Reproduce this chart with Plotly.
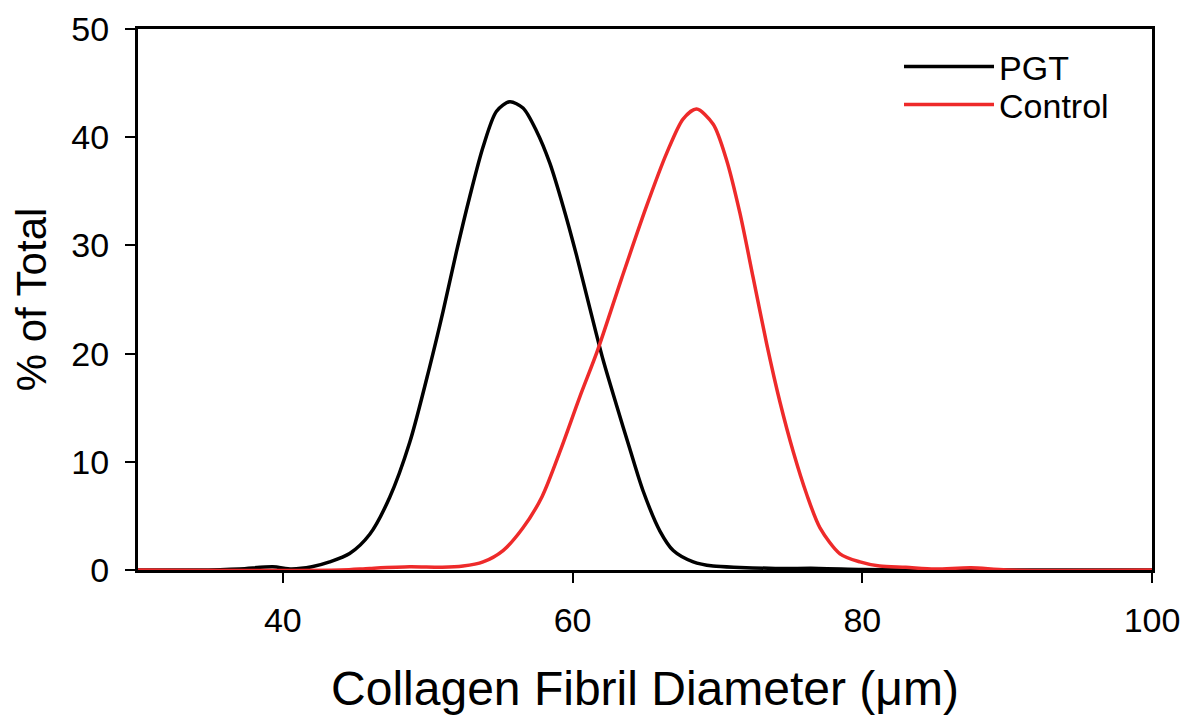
import plotly.graph_objects as go

# Collagen fibril diameter distribution data
pgt_x = [30, 34, 37, 39.3, 40.6, 42.0, 43.23, 44.61, 46.0, 47.37, 48.76, 50.14, 51.06, 51.98, 52.9,
         53.82, 54.75, 55.66, 56.58, 57.5, 58.43, 59.35, 60.27, 61.19, 62.11, 63.04, 63.95, 64.87,
         66.03, 66.95, 68.33, 69.7, 71.55, 74, 77, 80, 85, 100]
pgt_y = [0, 0, 0.1, 0.3, 0.1, 0.3, 0.75, 1.52, 3.3, 6.7, 11.8, 18.8, 23.9, 29.4, 34.5,
         39.1, 42.4, 43.27, 42.7, 40.6, 37.6, 33.6, 29.1, 24.2, 19.4, 15.2, 11.2, 7.3,
         3.6, 1.8, 0.75, 0.36, 0.24, 0.15, 0.15, 0.05, 0, 0]

ctrl_x = [30, 44, 46, 48.76, 51, 52.44, 53.82, 55.2, 56.58, 57.9, 59.2, 60.5, 61.7, 63.4, 65.1,
          66.49, 67.64, 68.56, 69.71, 70.63, 71.55, 72.47, 73.4, 74.32, 75.24, 76.16, 77.08,
          78.46, 79.84, 81.2, 83, 85, 87.5, 90, 100]
ctrl_y = [0, 0, 0.15, 0.3, 0.25, 0.36, 0.75, 1.8, 3.9, 6.8, 11.2, 16.0, 20.2, 27.0, 33.6,
          38.5, 41.7, 42.6, 41.2, 37.9, 33.0, 27.0, 20.9, 15.5, 10.9, 7.0, 3.9,
          1.5, 0.75, 0.36, 0.25, 0.1, 0.2, 0, 0]

x_ticks = [40, 60, 80, 100]
y_ticks = [0, 10, 20, 30, 40, 50]

FONT = "Liberation Sans, Arial, sans-serif"

fig = go.Figure()
fig.add_trace(go.Scatter(x=pgt_x, y=pgt_y, mode="lines", name="PGT", legend="legend",
                         line=dict(color="black", width=3.5, shape="spline", smoothing=0.8)))
fig.add_trace(go.Scatter(x=ctrl_x, y=ctrl_y, mode="lines", name="Control", legend="legend2",
                         line=dict(color="#ee2a2a", width=3.5, shape="spline", smoothing=0.8)))

leg_common = dict(x=0.7505, xanchor="left", yanchor="middle",
                  font=dict(size=34, family=FONT, color="black"), itemwidth=90,
                  bgcolor="rgba(0,0,0,0)", borderwidth=0)

fig.update_layout(
    width=1197, height=715,
    margin=dict(l=130, r=53, t=21, b=153),
    paper_bgcolor="white", plot_bgcolor="white",
    font=dict(family=FONT, color="black"),
    showlegend=True,
    legend=dict(y=0.93, **leg_common),
    legend2=dict(y=0.8595, **leg_common),
    xaxis=dict(range=[30, 100], tickvals=x_ticks, ticks="outside", ticklen=10, tickwidth=2,
               tickcolor="black", showline=True, linecolor="black", linewidth=3, mirror=True,
               showgrid=False, zeroline=False, tickfont=dict(size=34, family=FONT),
               ticklabelstandoff=8, automargin=False, ticklabeloverflow="allow",
               title=dict(text="Collagen Fibril Diameter (μm)", font=dict(size=48, family=FONT),
                          standoff=34)),
    yaxis=dict(range=[0, 50], tickvals=y_ticks, ticks="outside", ticklen=10, tickwidth=2,
               tickcolor="black", showline=True, linecolor="black", linewidth=3, mirror=True,
               showgrid=False, zeroline=False, tickfont=dict(size=34, family=FONT),
               ticklabelstandoff=9, automargin=False, ticklabeloverflow="allow",
               title=dict(text="% of Total", font=dict(size=42, family=FONT), standoff=16)),
)

fig.write_html("out.html")
